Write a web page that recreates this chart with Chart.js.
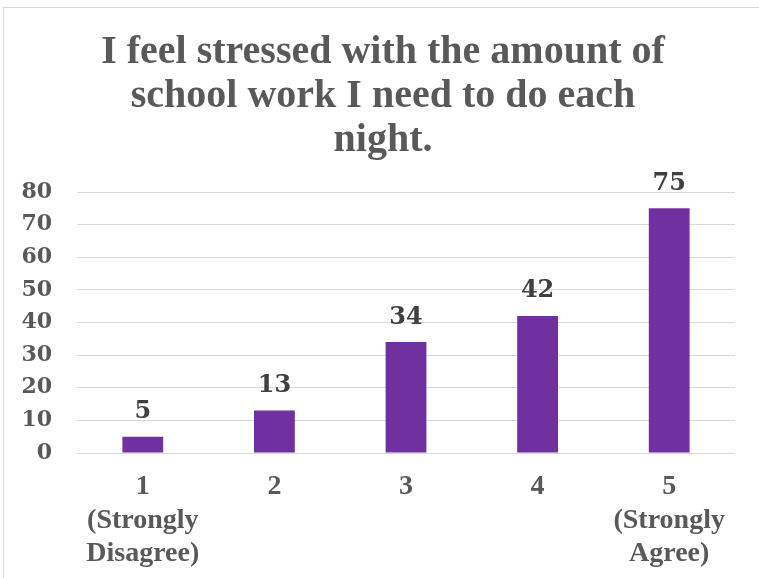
<!DOCTYPE html>
<html>
<head>
<meta charset="utf-8">
<script src="https://cdn.jsdelivr.net/npm/chart.js@4.4.1/dist/chart.umd.min.js"></script>
<style>
  html, body { margin: 0; padding: 0; background: #ffffff; overflow: hidden; }
  #frame {
    position: absolute;
    left: 3px;
    top: 7px;
    width: 755px;
    height: 570px;
    border-left: 1px solid #d9d9d9;
    border-top: 1px solid #d9d9d9;
  }
</style>
</head>
<body>
<div id="frame"><canvas id="stressChart" width="755" height="570"></canvas></div>
<script>
const titleLines = ["I feel stressed with the amount of", "school work I need to do each", "night."];
const answerLabels = [["1", "(Strongly", "Disagree)"], ["2"], ["3"], ["4"], ["5", "(Strongly", "Agree)"]];
const responseCounts = [5, 13, 34, 42, 75];
const countTicks = [0, 10, 20, 30, 40, 50, 60, 70, 80];

const textGray = "#595959";
const serifFont = "'Liberation Serif', 'Times New Roman', serif";
const numberFont = "'DejaVu Serif', serif";

// writes each count just above its bar
const barValueLabels = {
  id: "barValueLabels",
  afterDatasetsDraw(chart) {
    const { ctx } = chart;
    const meta = chart.getDatasetMeta(0);
    ctx.save();
    ctx.font = `bold 24px ${numberFont}`;
    ctx.fillStyle = "#404040";
    ctx.textAlign = "center";
    ctx.textBaseline = "alphabetic";
    meta.data.forEach((bar, index) => {
      ctx.fillText(String(responseCounts[index]), bar.x, bar.y - 18.5);
    });
    ctx.restore();
  }
};

new Chart(document.getElementById("stressChart"), {
  type: "bar",
  data: {
    labels: answerLabels,
    datasets: [
      {
        data: responseCounts,
        backgroundColor: "#7030a0",
        borderWidth: 0,
        categoryPercentage: 1,
        barPercentage: 0.31
      }
    ]
  },
  options: {
    responsive: false,
    animation: false,
    layout: { padding: { left: 3, right: 0, top: 0, bottom: 0 } },
    plugins: {
      legend: { display: false },
      tooltip: { enabled: false },
      title: {
        display: true,
        text: titleLines,
        color: textGray,
        font: { family: serifFont, size: 40, weight: "bold", lineHeight: 1.1 },
        padding: { top: 23, bottom: 29 }
      }
    },
    scales: {
      x: {
        grid: { display: false, drawTicks: false },
        border: { display: false },
        ticks: {
          color: textGray,
          padding: 17,
          maxRotation: 0,
          autoSkip: false,
          font: { family: serifFont, size: 28, weight: "bold", lineHeight: 1.2 }
        },
        afterFit(scale) { scale.height = 125; }
      },
      y: {
        min: 0,
        max: 80,
        afterBuildTicks(scale) { scale.ticks = countTicks.map((value) => ({ value })); },
        grid: { color: "#d9d9d9", lineWidth: 1, drawTicks: false },
        border: { display: false },
        ticks: {
          color: textGray,
          padding: 25,
          font: { family: numberFont, size: 22, weight: "bold" }
        },
        afterFit(scale) { scale.width = 70; }
      },
      // empty strip on the right so the plot stops short of the frame edge
      edge: {
        axis: "y",
        position: "right",
        min: 0,
        max: 80,
        grid: { display: false, drawTicks: false },
        border: { display: false },
        ticks: { display: false },
        afterFit(scale) { scale.width = 24; }
      }
    }
  },
  plugins: [barValueLabels]
});
</script>
</body>
</html>
